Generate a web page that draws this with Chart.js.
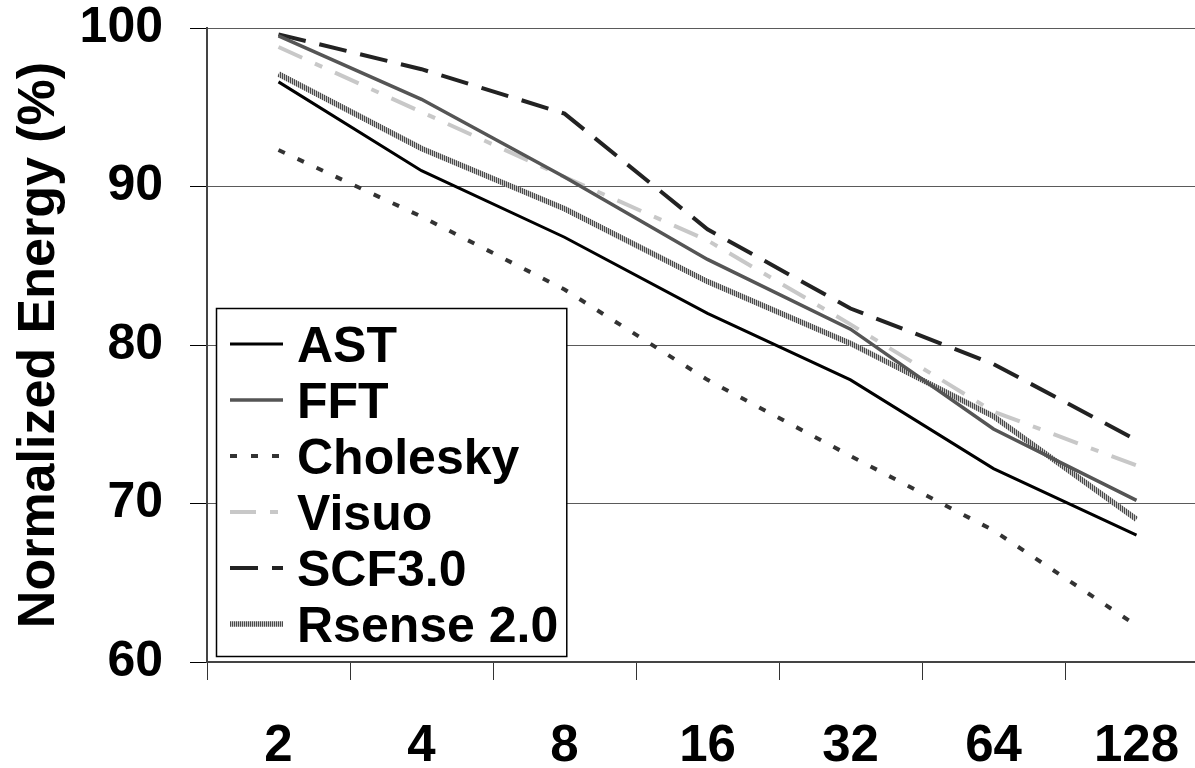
<!DOCTYPE html>
<html>
<head>
<meta charset="utf-8">
<script src="https://cdn.jsdelivr.net/npm/chart.js@4.4.1/dist/chart.umd.min.js"></script>
<style>
html,body{margin:0;padding:0;background:#fff;overflow:hidden;width:1195px;height:768px}
#wrap{position:relative;width:1208px;height:768px}
</style>
</head>
<body>
<div id="wrap"><canvas id="c"></canvas></div>
<script>
// ---- data ----
const categories = ['2', '4', '8', '16', '32', '64', '128'];
const astValues      = [96.6, 91.0, 86.8, 82.0, 77.8, 72.2, 68.0];
const fftValues      = [99.5, 95.5, 90.6, 85.4, 81.0, 74.7, 70.2];
const choleskyValues = [92.3, 88.1, 83.5, 77.8, 73.0, 68.3, 62.3];
const visuoValues    = [98.8, 94.7, 90.6, 86.6, 81.3, 75.8, 72.4];
const scfValues      = [99.6, 97.4, 94.6, 87.3, 82.3, 78.8, 74.0];
const rsenseValues   = [97.1, 92.4, 88.6, 84.0, 80.1, 75.5, 69.0];
const seriesNames = ['AST', 'FFT', 'Cholesky', 'Visuo', 'SCF3.0', 'Rsense 2.0'];
const yTicks = [60, 70, 80, 90, 100];
const yTitle = 'Normalized Energy (%)';

const FONT = "'Liberation Sans', Arial, Helvetica, sans-serif";
Chart.defaults.font.family = FONT;

function hatchPattern() {
  const c = document.createElement('canvas');
  c.width = 2; c.height = 2;
  const g = c.getContext('2d');
  g.fillStyle = '#c4c4c4'; g.fillRect(0, 0, 2, 2);
  g.fillStyle = '#4a4a4a'; g.fillRect(0, 0, 1, 2);
  return g.createPattern(c, 'repeat');
}

const legendPlugin = {
  id: 'boxLegend',
  afterDatasetsDraw(chart) {
    const { ctx, chartArea: a } = chart;
    const ds = chart.data.datasets;
    const rowH = 56;
    ctx.save();
    ctx.font = 'bold 50px ' + FONT;
    let maxW = 0;
    ds.forEach(d => { maxW = Math.max(maxW, ctx.measureText(d.label).width); });
    const left = a.left + 9;
    const bottom = a.bottom - 6;
    const w = 14 + 53 + 14 + maxW + 8;
    const h = ds.length * rowH + 12;
    const top = bottom - h;
    ctx.fillStyle = '#fff';
    ctx.fillRect(left, top, w, h);
    ctx.strokeStyle = '#000';
    ctx.lineWidth = 1.5;
    ctx.strokeRect(left + 0.5, top + 0.5, w, h);
    ds.forEach((d, i) => {
      const cy = top + 36 + i * rowH;
      ctx.beginPath();
      ctx.setLineDash(d.borderDash || []);
      ctx.lineDashOffset = 0;
      ctx.strokeStyle = d.borderColor;
      ctx.lineWidth = d.borderWidth;
      ctx.lineCap = 'butt';
      ctx.moveTo(left + 14, cy);
      ctx.lineTo(left + 67, cy);
      ctx.stroke();
      ctx.setLineDash([]);
      ctx.fillStyle = '#000';
      ctx.textBaseline = 'alphabetic';
      ctx.textAlign = 'left';
      ctx.fillText(d.label, left + 81, cy + 18);
    });
    ctx.restore();
  }
};

const styles = [
  { borderColor: '#000000', borderWidth: 3,   borderDash: [] },
  { borderColor: '#555555', borderWidth: 3.5, borderDash: [] },
  { borderColor: '#333333', borderWidth: 4,   borderDash: [7, 14] },
  { borderColor: '#c8c8c8', borderWidth: 4,   borderDash: [26, 14, 8, 14] },
  { borderColor: '#222222', borderWidth: 4,   borderDash: [28, 14] },
  { borderColor: hatchPattern(), borderWidth: 5.5, borderDash: [] }
];
const values = [astValues, fftValues, choleskyValues, visuoValues, scfValues, rsenseValues];

const datasets = seriesNames.map((name, i) => Object.assign({
  label: name,
  data: values[i],
  fill: false,
  tension: 0,
  pointRadius: 0,
  pointHoverRadius: 0
}, styles[i]));

new Chart(document.getElementById('c'), {
  type: 'line',
  data: { labels: categories, datasets },
  plugins: [legendPlugin],
  options: {
    responsive: true,
    maintainAspectRatio: false,
    animation: false,
    devicePixelRatio: 1,
    layout: { padding: { top: 28, right: 0, bottom: 0, left: 0 } },
    plugins: { legend: { display: false }, tooltip: { enabled: false } },
    scales: {
      x: {
        type: 'category',
        offset: true,
        grid: { offset: true, drawOnChartArea: false, drawTicks: true, tickLength: 18, tickColor: '#333', lineWidth: 1 },
        border: { display: true, color: '#444', width: 2 },
        ticks: { color: '#000', font: { size: 51, weight: 'bold', lineHeight: 1 }, padding: 41, maxRotation: 0, autoSkip: false },
        afterFit: s => { s.height = 106; s.paddingLeft = 0; s.paddingRight = 0; }
      },
      y: {
        min: yTicks[0],
        max: yTicks[yTicks.length - 1],
        ticks: { stepSize: yTicks[1] - yTicks[0], color: '#000', font: { size: 50, weight: 'bold', lineHeight: 1 }, padding: 27 },
        grid: { color: '#5a5a5a', tickColor: '#000', tickLength: 17, drawTicks: true, lineWidth: 1 },
        border: { display: true, color: '#444', width: 2 },
        title: { display: true, text: yTitle, color: '#000', font: { size: 52, weight: 'bold' }, padding: { top: 8, bottom: 0 } },
        afterFit: s => { s.width = 207; s.paddingTop = 0; s.paddingBottom = 0; }
      }
    }
  }
});
</script>
</body>
</html>
